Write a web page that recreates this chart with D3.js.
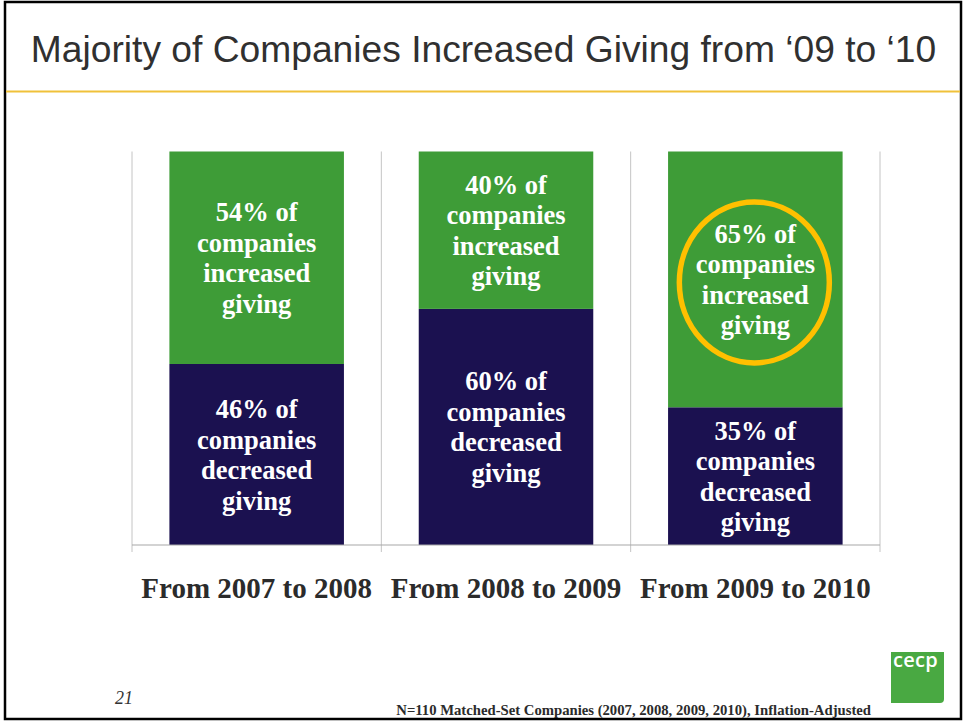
<!DOCTYPE html>
<html>
<head>
<meta charset="utf-8">
<script src="https://cdn.jsdelivr.net/npm/d3@7"></script>
<style>
  html, body { margin: 0; padding: 0; background: #fff; }
  svg { display: block; }
</style>
</head>
<body>
<svg id="chart" width="964" height="721"></svg>
<script>
// Share of matched-set companies that raised or cut giving in each period
const periods = ["From 2007 to 2008", "From 2008 to 2009", "From 2009 to 2010"];
const increasedPct = [54, 40, 65];
const decreasedPct = [46, 60, 35];
const highlightedPeriod = "From 2009 to 2010";

const titleText = "Majority of Companies Increased Giving from \u201809 to \u201810";
const footnoteText = "N=110 Matched-Set Companies (2007, 2008, 2009, 2010), Inflation-Adjusted";
const pageNumber = "21";

const GREEN = "#3e9c37";
const NAVY = "#1b1150";
const GOLD_RING = "#ffc000";

const svg = d3.select("#chart");

// slide frame
svg.append("rect")
  .attr("x", 5).attr("y", 2)
  .attr("width", 956).attr("height", 717)
  .attr("fill", "#fff")
  .attr("stroke", "#000")
  .attr("stroke-width", 2.5);

// title and rule beneath it
svg.append("text")
  .attr("x", 483.5).attr("y", 62)
  .attr("text-anchor", "middle")
  .attr("font-family", "'Liberation Sans', Arial, sans-serif")
  .attr("font-size", 37.2)
  .attr("fill", "#303030")
  .text(titleText);

svg.append("line")
  .attr("x1", 6).attr("x2", 960)
  .attr("y1", 91.5).attr("y2", 91.5)
  .attr("stroke", "#f0c13a")
  .attr("stroke-width", 2);

// scales
const x = d3.scaleBand()
  .domain(periods)
  .range([132, 880])
  .paddingInner(0.3)
  .paddingOuter(0.15);

const y = d3.scaleLinear()
  .domain([0, 100])
  .range([545, 151.5]);

const rows = periods.map((p, i) => ({
  period: p,
  inc: increasedPct[i],
  dec: decreasedPct[i]
}));

// category separators (gridlines running through the tick marks)
const boundaries = d3.range(periods.length + 1).map(i => x.range()[0] + i * x.step());
svg.append("g")
  .selectAll("line")
  .data(boundaries)
  .join("line")
  .attr("x1", d => d).attr("x2", d => d)
  .attr("y1", y(100)).attr("y2", y(0) + 7)
  .attr("stroke", "#c4c4c4")
  .attr("stroke-width", 1);

// stacked bars: decreased at the bottom, increased on top
const bars = svg.append("g");
bars.selectAll("rect.dec")
  .data(rows)
  .join("rect")
  .attr("class", "dec")
  .attr("x", d => x(d.period))
  .attr("width", x.bandwidth())
  .attr("y", d => y(d.dec))
  .attr("height", d => y(0) - y(d.dec))
  .attr("fill", NAVY);

bars.selectAll("rect.inc")
  .data(rows)
  .join("rect")
  .attr("class", "inc")
  .attr("x", d => x(d.period))
  .attr("width", x.bandwidth())
  .attr("y", d => y(d.dec + d.inc))
  .attr("height", d => y(d.dec) - y(d.dec + d.inc))
  .attr("fill", GREEN);

// horizontal category axis line
svg.append("line")
  .attr("x1", x.range()[0]).attr("x2", x.range()[1])
  .attr("y1", y(0)).attr("y2", y(0))
  .attr("stroke", "#a8a8a8")
  .attr("stroke-width", 1.2);

// segment labels
const lineH = 30.5;
function segmentLabel(cx, cy, lines) {
  const t = svg.append("text")
    .attr("text-anchor", "middle")
    .attr("font-family", "'Liberation Serif', 'Times New Roman', serif")
    .attr("font-weight", "bold")
    .attr("font-size", 26.5)
    .attr("fill", "#fff");
  lines.forEach((ln, i) => {
    t.append("tspan")
      .attr("x", cx)
      .attr("y", cy + (i - (lines.length - 1) / 2) * lineH)
      .attr("dy", "0.35em")
      .text(ln);
  });
}

rows.forEach(d => {
  const cx = x(d.period) + x.bandwidth() / 2;
  const incMid = (y(d.dec + d.inc) + y(d.dec)) / 2;
  const decMid = (y(d.dec) + y(0)) / 2;
  segmentLabel(cx, incMid, [d.inc + "% of", "companies", "increased", "giving"]);
  segmentLabel(cx, decMid, [d.dec + "% of", "companies", "decreased", "giving"]);
  if (d.period === highlightedPeriod) {
    svg.append("ellipse")
      .attr("cx", cx - 1)
      .attr("cy", incMid + 3)
      .attr("rx", 75)
      .attr("ry", 80.5)
      .attr("fill", "none")
      .attr("stroke", GOLD_RING)
      .attr("stroke-width", 5.5);
  }
});

// category labels
svg.append("g")
  .selectAll("text")
  .data(periods)
  .join("text")
  .attr("x", d => x(d) + x.bandwidth() / 2)
  .attr("y", 598)
  .attr("text-anchor", "middle")
  .attr("font-family", "'Liberation Serif', 'Times New Roman', serif")
  .attr("font-weight", "bold")
  .attr("font-size", 29)
  .attr("fill", "#2b2b2b")
  .text(d => d);

// page number
svg.append("text")
  .attr("x", 115).attr("y", 704)
  .attr("font-family", "'Liberation Serif', 'Times New Roman', serif")
  .attr("font-style", "italic")
  .attr("font-size", 18)
  .attr("fill", "#333")
  .text(pageNumber);

// source note
svg.append("text")
  .attr("x", 871).attr("y", 715)
  .attr("text-anchor", "end")
  .attr("font-family", "'Liberation Serif', 'Times New Roman', serif")
  .attr("font-weight", "bold")
  .attr("font-size", 14.7)
  .attr("fill", "#2b2b2b")
  .text(footnoteText);

// cecp logo tile
const logo = svg.append("g").attr("transform", "translate(891,652)");
logo.append("path")
  .attr("d", "M0,0 H53 V47 Q53,51 49,51 H0 Z")
  .attr("fill", "#49a942");
logo.append("text")
  .attr("x", 2).attr("y", 15)
  .attr("font-family", "'Open Sans', 'Liberation Sans', sans-serif")
  .attr("font-weight", 600)
  .attr("font-size", 20)
  .attr("letter-spacing", 0.3)
  .attr("fill", "#fff")
  .text("cecp");
</script>
</body>
</html>
